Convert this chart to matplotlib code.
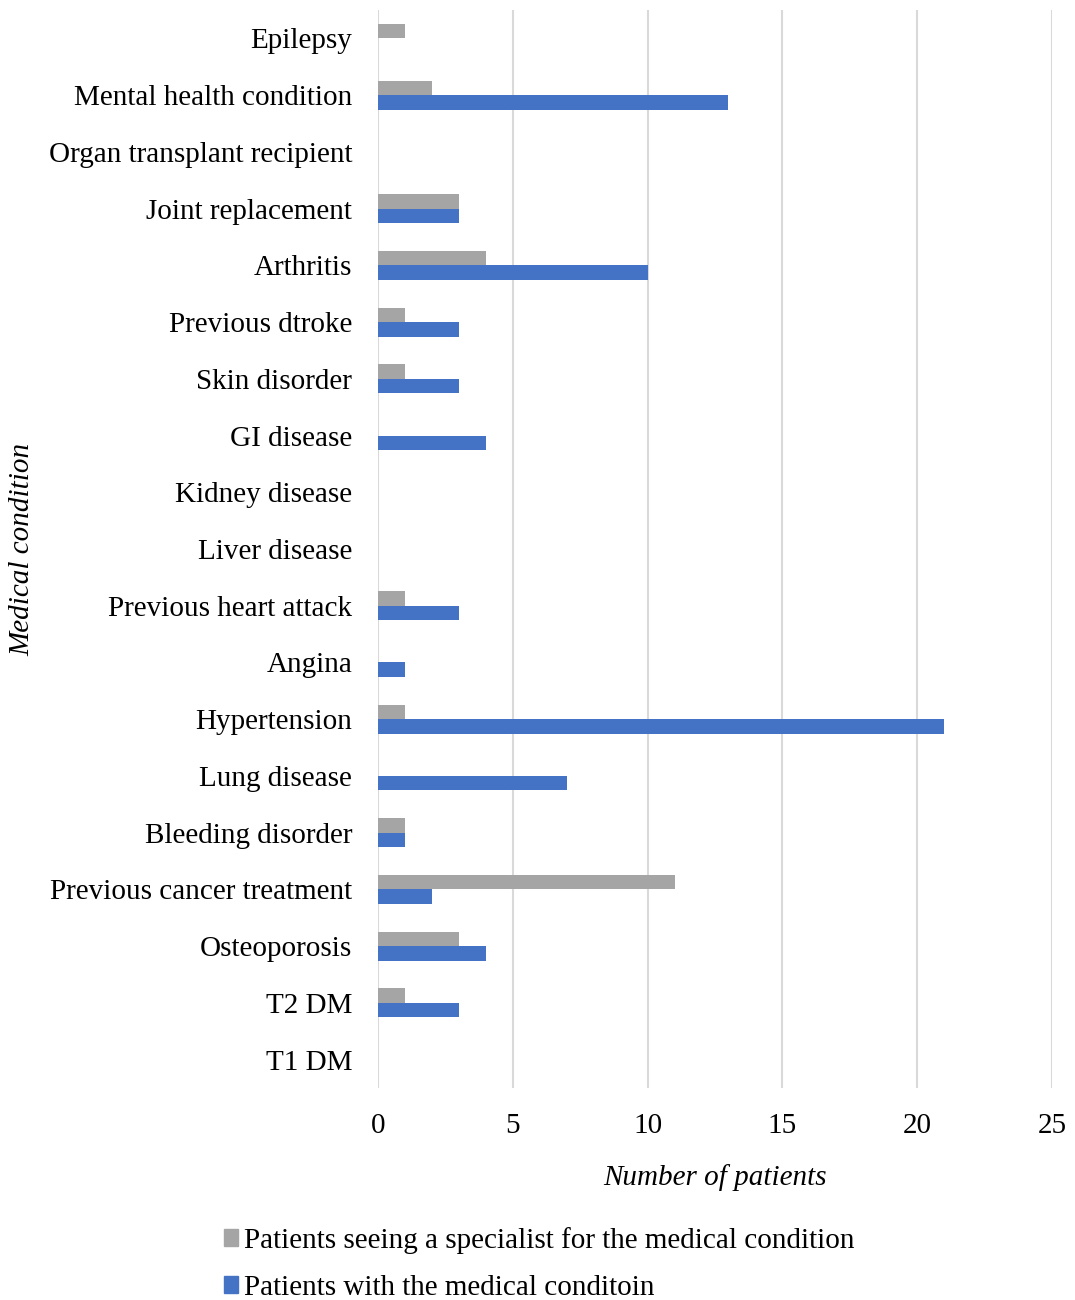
import numpy as np
import matplotlib.pyplot as plt
from matplotlib.patches import Patch

# categories listed top to bottom as in the chart
conditions = ["Epilepsy", "Mental health condition", "Organ transplant recipient",
              "Joint replacement", "Arthritis", "Previous dtroke", "Skin disorder",
              "GI disease", "Kidney disease", "Liver disease", "Previous heart attack",
              "Angina", "Hypertension", "Lung disease", "Bleeding disorder",
              "Previous cancer treatment", "Osteoporosis", "T2 DM", "T1 DM"]
seeing_specialist = [1, 2, 0, 3, 4, 1, 1, 0, 0, 0, 1, 0, 1, 0, 1, 11, 3, 1, 0]
with_condition = [0, 13, 0, 3, 10, 3, 3, 4, 0, 0, 3, 1, 21, 7, 1, 2, 4, 3, 0]

gray = "#A5A5A5"
blue = "#4472C4"
fs = 21

plt.rcParams["font.family"] = ["Liberation Serif", "DejaVu Serif"]

fig = plt.figure(figsize=(10.75, 13), dpi=100)
ax = fig.add_axes([378 / 1075, 1 - 1088 / 1300, 674 / 1075, 1078 / 1300])

n = len(conditions)
y = np.arange(n)[::-1]
h = 0.255
ax.barh(y + h / 2, seeing_specialist, height=h, color=gray, zorder=3)
ax.barh(y - h / 2, with_condition, height=h, color=blue, zorder=3)

ax.set_ylim(-0.5, n - 0.5)
ax.set_xlim(0, 25)
ax.set_xticks(range(0, 26, 5))
ax.set_yticks(y)
ax.set_yticklabels(conditions)
ax.tick_params(axis="both", length=0, labelsize=fs)
ax.tick_params(axis="y", pad=18.5)
ax.tick_params(axis="x", pad=18)
ax.grid(axis="x", color="#D9D9D9", linewidth=1.5, zorder=0)
for s in ax.spines.values():
    s.set_visible(False)

ax.set_xlabel("Number of patients", fontsize=fs, style="italic", labelpad=18)
ax.set_ylabel("Medical condition", fontsize=fs, style="italic")
ax.yaxis.set_label_coords(-0.508, 0.5)

handles = [Patch(color=gray, label="Patients seeing a specialist for the medical condition"),
           Patch(color=blue, label="Patients with the medical conditoin")]
fig.legend(handles=handles, loc="upper left", bbox_to_anchor=(212 / 1075, 1 - 1215 / 1300),
           frameon=False, fontsize=fs, handlelength=0.5, handleheight=0.5,
           handletextpad=0.2, labelspacing=0.72, borderaxespad=0)

fig.savefig("out.png", dpi=100)
